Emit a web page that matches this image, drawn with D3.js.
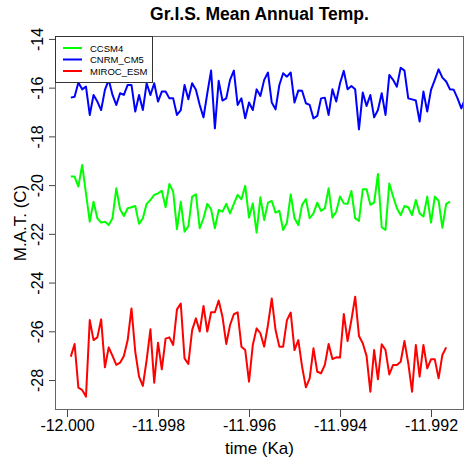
<!DOCTYPE html>
<html>
<head>
<meta charset="utf-8">
<script src="https://cdn.jsdelivr.net/npm/d3@7"></script>
<style>
  body { margin: 0; background: #fff; }
  text { font-family: "Liberation Sans", Arial, Helvetica, sans-serif; }
</style>
</head>
<body>
<div id="chart"></div>
<script>
// monthly mean annual temperature, three models
const ccsm4 = [-19.65,-19.65,-20.06,-19.17,-20.34,-21.50,-20.68,-21.36,-21.54,-21.50,
  -21.64,-21.36,-20.13,-20.99,-21.27,-20.95,-20.91,-20.86,-21.59,-21.36,
  -20.77,-20.61,-20.40,-20.34,-20.23,-20.91,-19.95,-20.27,-21.81,-20.68,
  -21.91,-21.69,-20.47,-20.38,-21.77,-21.36,-20.77,-20.99,-21.77,-21.02,
  -21.09,-20.77,-21.16,-20.77,-20.40,-20.58,-20.03,-21.33,-20.75,-21.95,
  -20.50,-21.43,-20.72,-20.65,-21.13,-21.05,-21.84,-21.54,-20.38,-21.36,
  -21.64,-20.81,-20.57,-21.36,-21.16,-20.72,-21.06,-20.95,-20.13,-21.33,
  -21.09,-20.47,-20.75,-20.77,-20.24,-21.36,-21.47,-20.17,-20.17,-20.81,
  -20.72,-19.54,-21.73,-21.84,-19.93,-20.47,-20.95,-21.23,-20.86,-20.91,
  -21.23,-20.61,-21.16,-21.29,-20.47,-21.54,-20.47,-20.64,-21.75,-20.77,
  -20.68];

const cnrm_cm5 = [-16.41,-16.37,-15.79,-16.07,-15.96,-17.12,-16.30,-16.57,-16.92,-16.09,
  -15.68,-16.30,-16.71,-16.23,-16.30,-15.89,-15.89,-16.98,-16.30,-16.92,
  -15.82,-16.30,-15.82,-16.57,-16.16,-16.16,-16.44,-16.44,-17.12,-16.92,
  -15.89,-16.48,-15.82,-16.09,-16.71,-17.22,-16.23,-15.30,-17.67,-15.72,
  -16.53,-16.44,-15.68,-15.30,-16.71,-16.44,-17.26,-16.61,-16.92,-16.07,
  -16.34,-15.68,-15.38,-16.61,-16.89,-15.89,-15.41,-15.55,-15.38,-16.61,
  -16.12,-16.13,-16.64,-16.71,-17.26,-17.16,-16.44,-16.41,-17.12,-16.07,
  -16.57,-15.82,-15.31,-16.07,-15.93,-16.07,-17.71,-16.20,-16.75,-16.30,
  -17.22,-16.92,-16.23,-17.12,-15.48,-15.68,-15.96,-15.18,-15.30,-16.44,
  -16.48,-16.53,-17.39,-16.16,-16.98,-16.09,-15.68,-15.25,-15.59,-15.75,
  -16.07,-16.09,-16.44,-16.85,-16.44];

const miroc_esm = [-27.04,-26.52,-28.31,-28.41,-28.68,-25.54,-26.36,-26.25,-25.51,-27.48,
  -26.66,-27.01,-27.38,-27.29,-27.01,-26.36,-25.06,-26.84,-27.86,-28.24,
  -27.18,-25.92,-28.11,-26.47,-27.56,-26.30,-26.25,-26.56,-25.10,-24.86,
  -27.11,-27.34,-25.95,-25.47,-26.01,-24.96,-26.01,-25.22,-25.22,-24.74,
  -25.40,-26.52,-25.74,-25.30,-25.22,-26.63,-26.77,-28.07,-26.56,-25.88,
  -26.08,-26.63,-25.74,-24.65,-25.95,-26.63,-26.63,-25.54,-25.23,-26.77,
  -26.36,-27.45,-28.30,-27.93,-26.70,-27.66,-27.72,-27.38,-26.52,-27.14,
  -27.07,-27.08,-25.29,-26.40,-25.54,-24.58,-26.19,-26.49,-27.01,-28.48,
  -26.77,-27.97,-26.53,-26.77,-27.77,-27.38,-27.38,-27.25,-26.40,-27.31,
  -28.48,-26.56,-27.86,-26.56,-27.52,-27.15,-27.15,-27.93,-26.97,-26.66];

const seriesNames = ["CCSM4", "CNRM_CM5", "MIROC_ESM"];
const seriesColors = ["#00ff00", "#0000ff", "#ff0000"];
const xTicks = [-12.000, -11.998, -11.996, -11.994, -11.992];
const yTicks = [-28, -26, -24, -22, -20, -18, -16, -14];

// time stamps: one value per month starting at -12 ka
const START_KA = -12.0;
const MONTH_KA = 1 / 12000;
const toSeries = vals => vals.map((v, i) => ({ t: START_KA + (i + 1) * MONTH_KA, v: v }));
const allSeries = [ccsm4, cnrm_cm5, miroc_esm].map(toSeries);

// plain hyphen minus like the original
const locale = d3.formatLocale({ decimal: ".", thousands: ",", grouping: [3], currency: ["", ""], minus: "-" });

//**********************************************************************
//                         SIZES
//**********************************************************************
const WIDTH = 468, HEIGHT = 458;
const PLOT_LEFT = 55, PLOT_RIGHT = 464, PLOT_TOP = 36, PLOT_BOTTOM = 410;

const svg = d3.select("#chart").append("svg")
  .attr("width", WIDTH)
  .attr("height", HEIGHT)
  .style("background", "#fff");

const x = d3.scaleLinear()
  .domain([-12.000264, -11.991275])
  .range([PLOT_LEFT, PLOT_RIGHT]);

const y = d3.scaleLinear()
  .domain([-29.23, -13.88])
  .range([PLOT_BOTTOM, PLOT_TOP]);

svg.append("defs").append("clipPath").attr("id", "plotClip")
  .append("rect")
  .attr("x", PLOT_LEFT).attr("y", PLOT_TOP)
  .attr("width", PLOT_RIGHT - PLOT_LEFT).attr("height", PLOT_BOTTOM - PLOT_TOP);

//**********************************************************************
//                         LINES
//**********************************************************************
const line = d3.line().x(d => x(d.t)).y(d => y(d.v));

svg.append("g").attr("clip-path", "url(#plotClip)")
  .selectAll("path")
  .data(allSeries)
  .join("path")
  .attr("d", line)
  .attr("fill", "none")
  .attr("stroke", (d, i) => seriesColors[i])
  .attr("stroke-width", 2)
  .attr("stroke-linejoin", "round");

//**********************************************************************
//                         AXES
//**********************************************************************
const xAxis = svg.append("g")
  .attr("transform", `translate(0,${PLOT_BOTTOM})`)
  .call(d3.axisBottom(x).tickValues(xTicks).tickFormat(locale.format(".3f")).tickSize(7).tickSizeOuter(0));
xAxis.select(".domain").remove();
xAxis.selectAll("line").attr("stroke", "#444");
xAxis.selectAll("text")
  .attr("y", 10)
  .style("font-size", "16px")
  .attr("fill", "#000");

const yAxis = svg.append("g")
  .attr("transform", `translate(${PLOT_LEFT},0)`)
  .call(d3.axisLeft(y).tickValues(yTicks).tickFormat(locale.format("d")).tickSize(6).tickSizeOuter(0));
yAxis.select(".domain").remove();
yAxis.selectAll("line").attr("stroke", "#444");
yAxis.selectAll("text")
  .attr("x", 0).attr("dy", 0)
  .attr("transform", "translate(-12,0) rotate(-90)")
  .attr("text-anchor", "middle")
  .style("font-size", "16px")
  .attr("fill", "#000");

// box
svg.append("rect")
  .attr("x", PLOT_LEFT + 0.5).attr("y", PLOT_TOP + 0.5)
  .attr("width", PLOT_RIGHT - PLOT_LEFT - 1).attr("height", PLOT_BOTTOM - PLOT_TOP - 1)
  .attr("fill", "none")
  .attr("stroke", "#666");

//**********************************************************************
//                         TITLES
//**********************************************************************
svg.append("text")
  .attr("x", (PLOT_LEFT + PLOT_RIGHT) / 2).attr("y", 20)
  .attr("text-anchor", "middle")
  .style("font-size", "17.5px").style("font-weight", "bold")
  .text("Gr.I.S. Mean Annual Temp.");

svg.append("text")
  .attr("x", (PLOT_LEFT + PLOT_RIGHT) / 2).attr("y", 454)
  .attr("text-anchor", "middle")
  .style("font-size", "17px")
  .text("time (Ka)");

svg.append("text")
  .attr("transform", `translate(26,${(PLOT_TOP + PLOT_BOTTOM) / 2}) rotate(-90)`)
  .attr("text-anchor", "middle")
  .style("font-size", "17px")
  .text("M.A.T. (C)");

//**********************************************************************
//                         LEGEND
//**********************************************************************
const legend = svg.append("g");
legend.append("rect")
  .attr("x", PLOT_LEFT + 0.5).attr("y", PLOT_TOP + 0.5)
  .attr("width", 97).attr("height", 46)
  .attr("fill", "#fff").attr("stroke", "#333");

const rows = legend.selectAll("g.row")
  .data(seriesNames)
  .join("g")
  .attr("class", "row")
  .attr("transform", (d, i) => `translate(${PLOT_LEFT},${PLOT_TOP + 12 + i * 11.5})`);
rows.append("line")
  .attr("x1", 8).attr("x2", 27)
  .attr("stroke", (d, i) => seriesColors[i])
  .attr("stroke-width", 2);
rows.append("text")
  .attr("x", 35).attr("y", 3.5)
  .style("font-size", "9.5px")
  .text(d => d);
</script>
</body>
</html>
